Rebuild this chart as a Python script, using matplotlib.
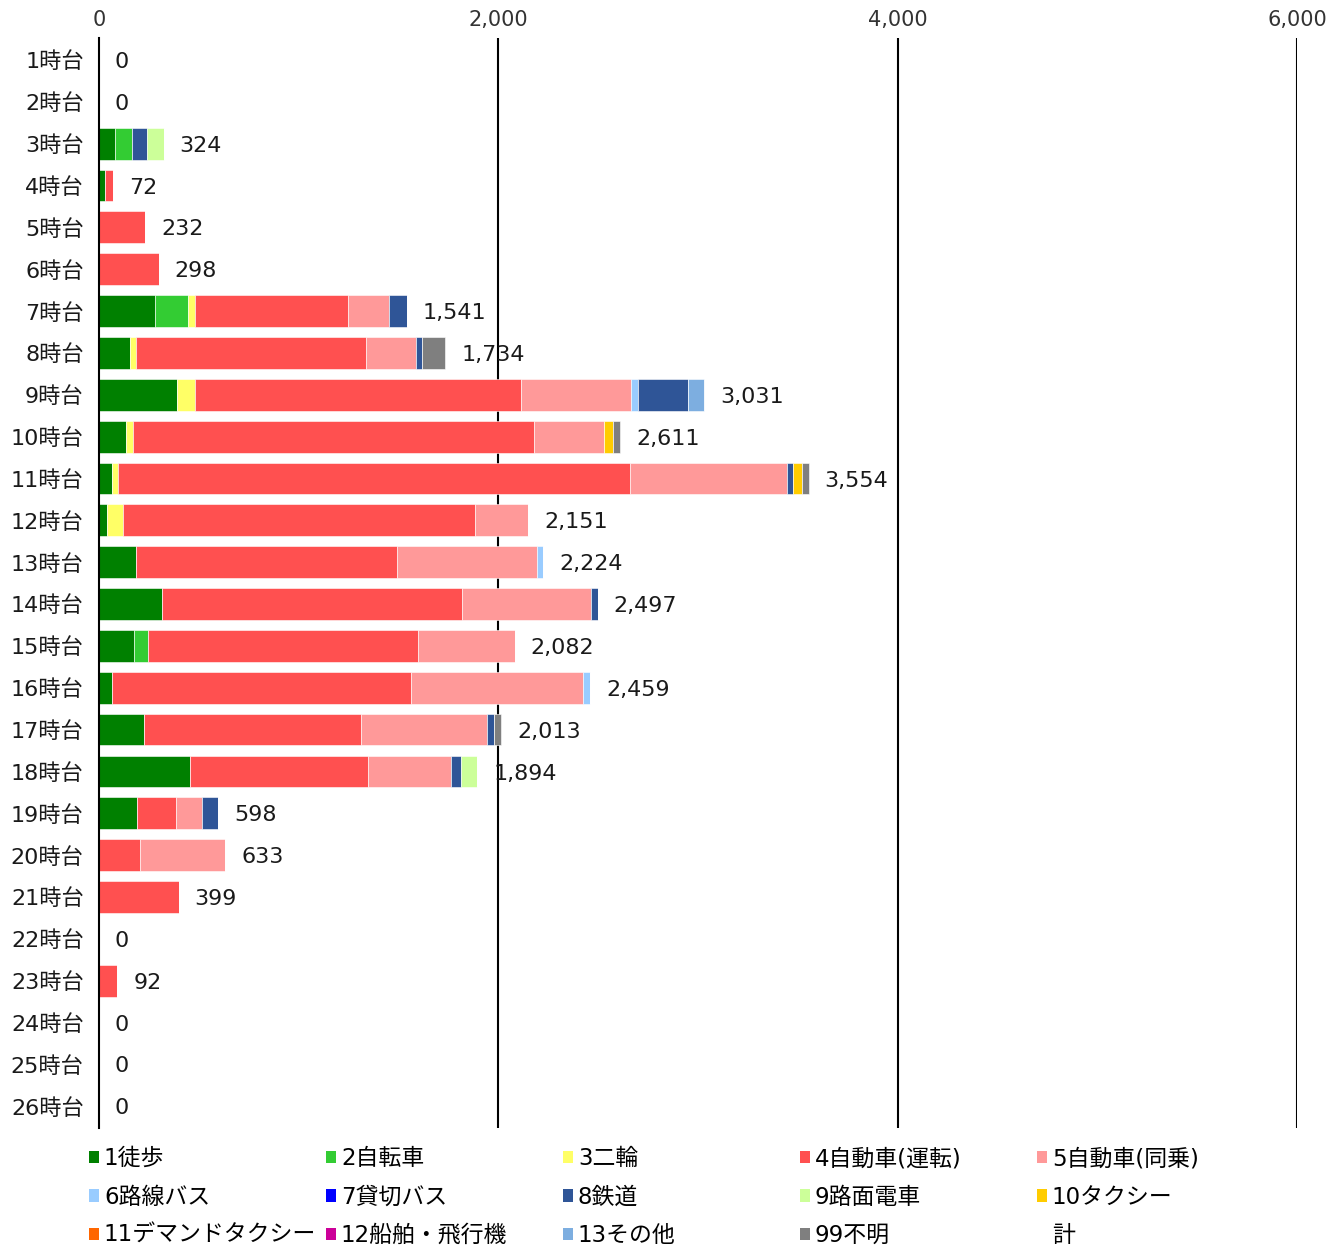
import numpy as np
import matplotlib.pyplot as plt
from matplotlib.patches import Patch

plt.rcParams['font.family'] = ['DejaVu Sans', 'Noto Sans CJK JP']

# ── Data ───────────────────────────────────────────────────────────────────────
hours = [f'{h}時台' for h in range(1, 27)]

modes = ['1徒歩', '2自転車', '3二輪', '4自動車(運転)', '5自動車(同乗)',
         '6路線バス', '7貸切バス', '8鉄道', '9路面電車', '10タクシー',
         '11デマンドタクシー', '12船舶・飛行機', '13その他', '99不明']

colors = ['#008000', '#33CC33', '#FFFF66', '#FF5050', '#FF9999',
          '#99CCFF', '#0000FF', '#2F5597', '#CCFF99', '#FFCC00',
          '#FF6600', '#CC0099', '#7DAEE0', '#7F7F7F']

# values per hour (1..26) for each mode
walk     = [0, 0, 80, 32, 0, 0, 278, 153, 392, 133, 63, 39, 186, 315, 174, 64, 224, 457, 189, 0, 0, 0, 0, 0, 0, 0]
bicycle  = [0, 0, 83, 0, 0, 0, 168, 0, 0, 0, 0, 0, 0, 0, 72, 0, 0, 0, 0, 0, 0, 0, 0, 0, 0, 0]
moto     = [0, 0, 0, 0, 0, 0, 37, 30, 91, 37, 30, 81, 0, 0, 0, 0, 0, 0, 0, 0, 0, 0, 0, 0, 0, 0]
car_drv  = [0, 0, 0, 40, 232, 298, 764, 1154, 1631, 2007, 2567, 1763, 1308, 1504, 1351, 1501, 1090, 891, 196, 204, 399, 0, 92, 0, 0, 0]
car_pas  = [0, 0, 0, 0, 0, 0, 207, 252, 549, 350, 787, 268, 698, 646, 485, 861, 630, 417, 131, 429, 0, 0, 0, 0, 0, 0]
bus      = [0, 0, 0, 0, 0, 0, 0, 0, 37, 0, 0, 0, 32, 0, 0, 33, 0, 0, 0, 0, 0, 0, 0, 0, 0, 0]
charter  = [0] * 26
rail     = [0, 0, 79, 0, 0, 0, 87, 30, 252, 0, 28, 0, 0, 32, 0, 0, 35, 49, 82, 0, 0, 0, 0, 0, 0, 0]
tram     = [0, 0, 82, 0, 0, 0, 0, 0, 0, 0, 0, 0, 0, 0, 0, 0, 0, 80, 0, 0, 0, 0, 0, 0, 0, 0]
taxi     = [0, 0, 0, 0, 0, 0, 0, 0, 0, 49, 44, 0, 0, 0, 0, 0, 0, 0, 0, 0, 0, 0, 0, 0, 0, 0]
demand   = [0] * 26
ship_air = [0] * 26
other    = [0, 0, 0, 0, 0, 0, 0, 0, 79, 0, 0, 0, 0, 0, 0, 0, 0, 0, 0, 0, 0, 0, 0, 0, 0, 0]
unknown  = [0, 0, 0, 0, 0, 0, 0, 115, 0, 35, 35, 0, 0, 0, 0, 0, 34, 0, 0, 0, 0, 0, 0, 0, 0, 0]

totals = [0, 0, 324, 72, 232, 298, 1541, 1734, 3031, 2611, 3554, 2151, 2224, 2497,
          2082, 2459, 2013, 1894, 598, 633, 399, 0, 92, 0, 0, 0]

series = [walk, bicycle, moto, car_drv, car_pas, bus, charter, rail, tram,
          taxi, demand, ship_air, other, unknown]

# ── Plot ───────────────────────────────────────────────────────────────────────
W, H = 1341, 1251
fig = plt.figure(figsize=(W / 100, H / 100), dpi=100)
ax = fig.add_axes([99 / W, 1 - 1128 / H, (1297 - 99) / W, (1128 - 38) / H])

y = np.arange(len(hours))
left = np.zeros(len(hours))
for vals, col in zip(series, colors):
    v = np.array(vals, dtype=float)
    ax.barh(y, v, left=left, height=0.76, color=col, edgecolor='white', linewidth=0.4)
    left += v

for yi, tot in zip(y, totals):
    ax.text(tot + 80, yi + 0.05, f'{tot:,}', va='center', ha='left', fontsize=16, color='#1a1a1a')

ax.set_xlim(0, 6000)
ax.set_ylim(len(hours) - 0.48, -0.525)
ax.set_xticks([0, 2000, 4000, 6000])
ax.set_xticklabels(['0', '2,000', '4,000', '6,000'])
ax.xaxis.tick_top()
ax.tick_params(axis='x', length=0, pad=6, labelsize=15, labelcolor='#333333')
ax.set_yticks(y)
ax.set_yticklabels(hours)
ax.tick_params(axis='y', length=0, pad=11, labelsize=16, labelcolor='#1a1a1a')

for s in ['top', 'right', 'bottom']:
    ax.spines[s].set_visible(False)
ax.spines['left'].set_color('black')
ax.spines['left'].set_linewidth(1.5)
for gx in [2000, 4000, 6000]:
    ax.axvline(gx, color='black', linewidth=1.5, zorder=0)

# ── Legend: 5 columns, filled row by row ───────────────────────────────────────
labels = modes + ['計']
handles = [Patch(facecolor=c, edgecolor='none') for c in colors] + [Patch(facecolor='none', edgecolor='none')]
col_x = [89, 326, 563, 800, 1037]
for c, cx in enumerate(col_x):
    idx = list(range(c, len(labels), 5))
    fig.legend([handles[i] for i in idx], [labels[i] for i in idx],
               loc='upper left', bbox_to_anchor=(cx / W, 1 - 1147 / H),
               frameon=False, fontsize=16.5,
               handlelength=0.45, handleheight=0.45, handletextpad=0.2,
               labelspacing=0.68, borderaxespad=0, borderpad=0)

fig.savefig('out.png', dpi=100)
